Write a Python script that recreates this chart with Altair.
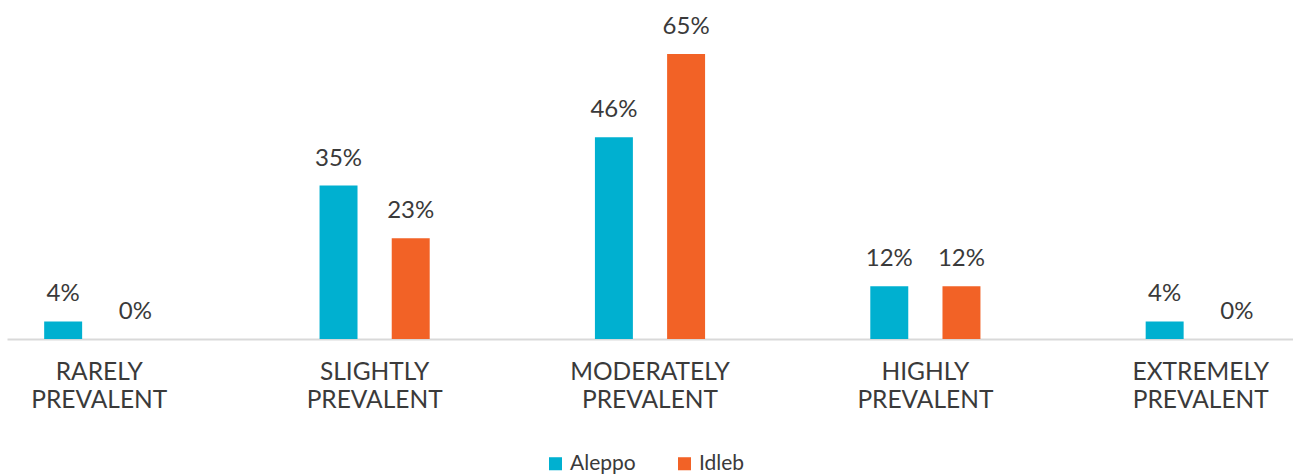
import altair as alt
import pandas as pd

categories = ["RARELY PREVALENT", "SLIGHTLY PREVALENT", "MODERATELY PREVALENT",
              "HIGHLY PREVALENT", "EXTREMELY PREVALENT"]
series = ["Aleppo", "Idleb"]
aleppo = [4, 35, 46, 12, 4]
idleb = [0, 23, 65, 12, 0]
colors = ["#00b0d0", "#f26226"]

rows = []
for cat, a, i in zip(categories, aleppo, idleb):
    rows.append({"category": cat, "region": "Aleppo", "value": a})
    rows.append({"category": cat, "region": "Idleb", "value": i})
df = pd.DataFrame(rows)
df["label"] = df["value"].astype(str) + "%"

FONT = "Lato"
TEXT = "#3a3a3a"

x = alt.X("category:N", sort=categories, title=None,
          scale=alt.Scale(paddingInner=0.6, paddingOuter=0.135),
          axis=alt.Axis(labelAngle=0, labelExpr="split(datum.label, ' ')",
                        labelFont=FONT, labelFontSize=24.5, labelFontWeight="normal",
                        labelColor=TEXT, labelLineHeight=28, labelPadding=21,
                        ticks=False, domainColor="#d9d9d9", domainWidth=2))
xo = alt.XOffset("region:N", sort=series,
                 scale=alt.Scale(paddingInner=0.474, paddingOuter=0))
y = alt.Y("value:Q", scale=alt.Scale(domain=[0, 70], nice=False), axis=None)

bars = alt.Chart(df).mark_bar().encode(
    x=x, xOffset=xo, y=y,
    color=alt.Color("region:N", sort=series,
                    scale=alt.Scale(domain=series, range=colors),
                    legend=alt.Legend(title=None, orient="none", direction="horizontal",
                                      legendX=538, legendY=421,
                                      symbolType="square", symbolSize=170,
                                      symbolStrokeWidth=0,
                                      labelFont=FONT, labelFontSize=21,
                                      labelColor=TEXT, columnPadding=38,
                                      labelOffset=4)),
)

labels = alt.Chart(df).mark_text(
    font=FONT, fontSize=24, color=TEXT,
    baseline="alphabetic", dy=-20
).encode(x=x, xOffset=xo, y=y, text="label:N")

chart = alt.layer(bars, labels).properties(
    width=1286, height=307,
    padding={"left": 7, "top": 32, "right": 0, "bottom": 136},
    autosize=alt.AutoSizeParams(type="none"),
).configure_view(stroke=None)

chart.save("out.html", embed_options={"renderer": "svg", "actions": False})
